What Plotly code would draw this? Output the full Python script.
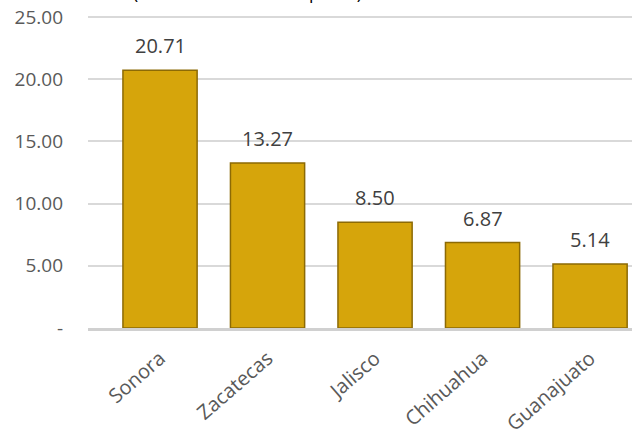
import plotly.graph_objects as go

estados = ["Sonora", "Zacatecas", "Jalisco", "Chihuahua", "Guanajuato"]
valores = [20.71, 13.27, 8.50, 6.87, 5.14]
etiquetas = ["20.71", "13.27", "8.50", "6.87", "5.14"]
ytick_vals = [0, 5, 10, 15, 20, 25]
ytick_text = ["-", "5.00", "10.00", "15.00", "20.00", "25.00"]
titulo = "(Miles de millones de pesos)"

fig = go.Figure()
fig.add_trace(go.Bar(
    x=estados, y=valores,
    marker=dict(color="#D6A50B", line=dict(color="#8C6A05", width=1.5)),
    hoverinfo="skip",
))
for e, v, t in zip(estados, valores, etiquetas):
    fig.add_annotation(x=e, y=v, text=t, showarrow=False, yanchor="bottom",
                       yshift=9, font=dict(family="Open Sans", size=20, color="#404040"))

fig.add_annotation(x=0.294, xref="paper", xanchor="center", y=1.0, yref="paper",
                   yshift=9, yanchor="bottom", text=titulo, showarrow=False,
                   font=dict(family="Open Sans", size=17.5, color="#000000"))

fig.update_layout(
    width=632, height=438,
    margin=dict(l=88, r=0, t=15, b=110),
    paper_bgcolor="white", plot_bgcolor="white",
    bargap=0.31, showlegend=False,
    font=dict(family="Open Sans", size=16, color="#595959"),
)
fig.update_xaxes(range=[-0.67, 4.39], tickangle=-41, showgrid=False,
                 showline=True, linecolor="#D0D0D0", linewidth=3,
                 tickfont=dict(size=20, color="#595959"), ticks="",
                 ticklabelstandoff=8, automargin=False)
fig.update_yaxes(range=[0, 25.16], tickvals=ytick_vals, ticktext=ytick_text,
                 showgrid=True, gridcolor="#D9D9D9", gridwidth=2,
                 zeroline=False, ticks="", ticklabelstandoff=24, automargin=False,
                 ticklabeloverflow="allow",
                 tickfont=dict(size=19, color="#595959"))

fig.write_html("out.html", config={"displayModeBar": False},
               post_script="document.body.style.margin='0';")
